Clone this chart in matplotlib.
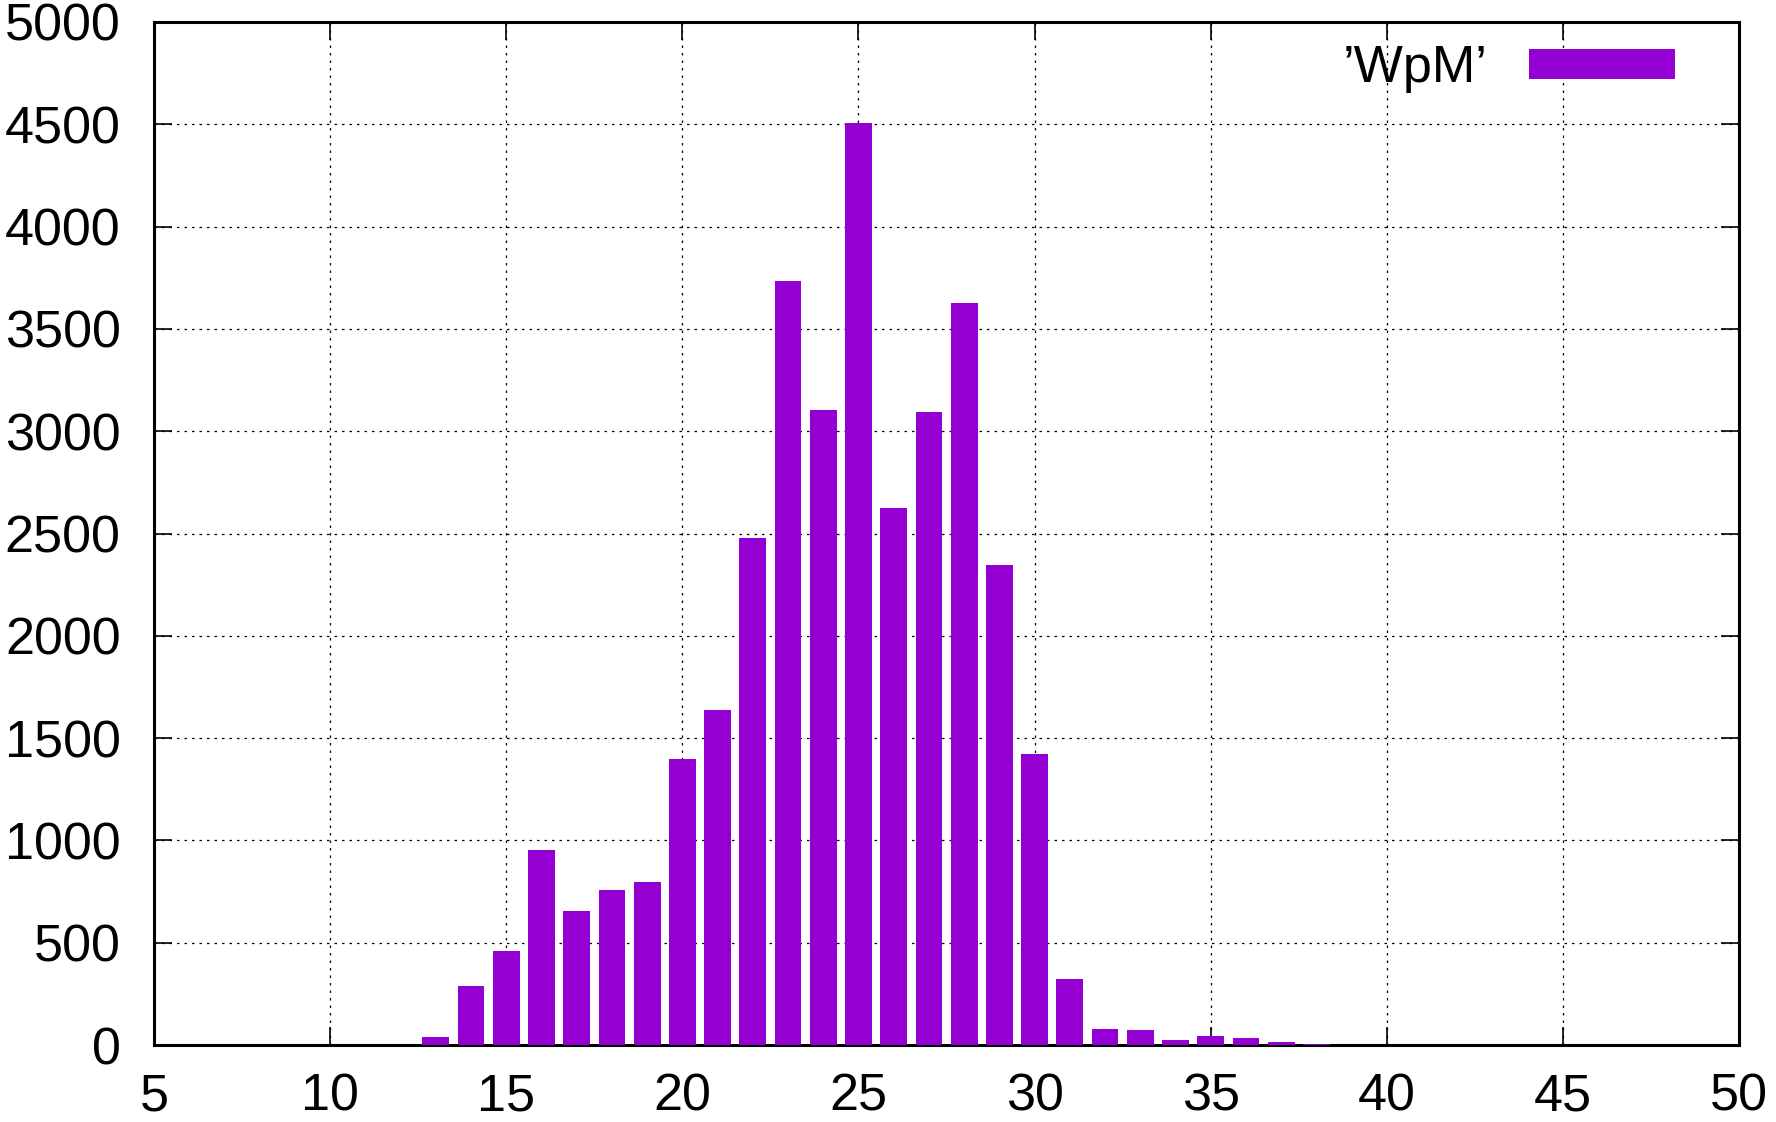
import matplotlib
matplotlib.use("Agg")
import matplotlib.pyplot as plt

# WpM histogram values
wpm = [13, 14, 15, 16, 17, 18, 19, 20, 21, 22, 23, 24, 25, 26,
       27, 28, 29, 30, 31, 32, 33, 34, 35, 36, 37, 38, 39]
counts = [40, 288, 459, 951, 653, 758, 796, 1399, 1637, 2478, 3733, 3103, 4508, 2627,
          3092, 3628, 2345, 1421, 324, 78, 75, 23, 44, 34, 13, 5, 2]

x_ticks = list(range(5, 51, 5))
y_ticks = list(range(0, 5001, 500))

plt.rcParams['font.family'] = ['Liberation Sans', 'DejaVu Sans']

fig = plt.figure(figsize=(17.76, 11.22), dpi=100)
ax = fig.add_axes([0.0867, 0.0686, 0.8925, 0.9118])

ax.bar(wpm, counts, width=0.76, color='#9400d3', label='\u2019WpM\u2019', zorder=3)

ax.set_xlim(5, 50)
ax.set_ylim(0, 5000)
ax.set_xticks(x_ticks)
ax.set_yticks(y_ticks)

ax.grid(True, color='black', linestyle=(0, (2, 4)), linewidth=0.9, zorder=0)
ax.tick_params(direction='in', length=13, width=1.2, labelsize=37.5,
               top=True, right=True)
ax.tick_params(axis='y', pad=24)
ax.tick_params(axis='x', pad=19.5)
for s in ax.spines.values():
    s.set_linewidth(2.2)

ax.legend(loc='upper right', bbox_to_anchor=(0.9596, 0.978), frameon=False,
          markerfirst=False, fontsize=37.5, handlelength=2.8, handleheight=0.5,
          borderpad=0, borderaxespad=0, handletextpad=0.8)

fig.savefig('out.png', dpi=100)
